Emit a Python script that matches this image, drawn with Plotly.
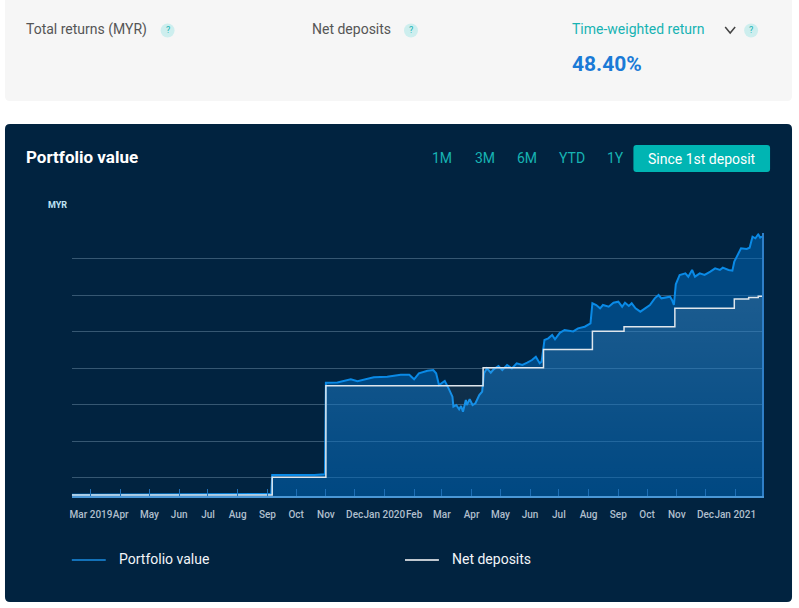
import plotly.graph_objects as go

# Values (MYR, approximate)
portfolio_dates = [
    "2019-02-09", "2019-03-01", "2019-03-20", "2019-04-10", "2019-05-01", "2019-05-20",
    "2019-06-10", "2019-07-01", "2019-07-20", "2019-08-10", "2019-08-25", "2019-09-05",
    "2019-09-06", "2019-09-20", "2019-10-05", "2019-10-20", "2019-10-31",
    "2019-11-01", "2019-11-13", "2019-11-27", "2019-12-04", "2019-12-14", "2019-12-21",
    "2020-01-04", "2020-01-18", "2020-01-27", "2020-02-01", "2020-02-06", "2020-02-15",
    "2020-02-21", "2020-02-24", "2020-02-27", "2020-03-02", "2020-03-04", "2020-03-08",
    "2020-03-12", "2020-03-13", "2020-03-16", "2020-03-19", "2020-03-21", "2020-03-23",
    "2020-03-26", "2020-03-27", "2020-03-30", "2020-04-02", "2020-04-05", "2020-04-09",
    "2020-04-12", "2020-04-14", "2020-04-17", "2020-04-21", "2020-04-24", "2020-04-29",
    "2020-05-03", "2020-05-08", "2020-05-13", "2020-05-18", "2020-05-24", "2020-05-29",
    "2020-06-03", "2020-06-07", "2020-06-11", "2020-06-13", "2020-06-16", "2020-06-20",
    "2020-06-24", "2020-06-27", "2020-07-02", "2020-07-07", "2020-07-13", "2020-07-16",
    "2020-07-21", "2020-07-28", "2020-08-03", "2020-08-05", "2020-08-09", "2020-08-13",
    "2020-08-16", "2020-08-22", "2020-08-27", "2020-09-01", "2020-09-05", "2020-09-08",
    "2020-09-12", "2020-09-15", "2020-09-19", "2020-09-24", "2020-09-29", "2020-10-04",
    "2020-10-09", "2020-10-13", "2020-10-16", "2020-10-21", "2020-10-25", "2020-10-27",
    "2020-10-29", "2020-10-31", "2020-11-04", "2020-11-10", "2020-11-13", "2020-11-17",
    "2020-11-20", "2020-11-25", "2020-11-30", "2020-12-06", "2020-12-11", "2020-12-16",
    "2020-12-19", "2020-12-25", "2020-12-29", "2020-12-31", "2021-01-04", "2021-01-07",
    "2021-01-13", "2021-01-16", "2021-01-19", "2021-01-22", "2021-01-25", "2021-01-27",
    "2021-01-29",
]
portfolio_values = [
    32, 36, 38, 41, 44, 47,
    45, 49, 52, 55, 60, 58,
    575, 580, 565, 578, 595,
    3104, 3110, 3196, 3142, 3196, 3252,
    3269, 3324, 3320, 3196, 3361, 3433,
    3452, 3361, 3041, 3104, 3151, 2950,
    2721, 2447, 2493, 2375, 2466, 2310,
    2630, 2493, 2649, 2493, 2540, 2767,
    2858, 3361, 3498, 3379, 3470, 3562,
    3452, 3589, 3498, 3635, 3589, 3653,
    3726, 3817, 3635, 3680, 4274, 4320,
    4411, 4293, 4470, 4548, 4529, 4510,
    4594, 4638, 4731, 5279, 5233, 5142,
    5233, 5186, 5296, 5324, 5186, 5296,
    5205, 5279, 5142, 5050, 5142, 5233,
    5416, 5507, 5416, 5434, 5461, 5370,
    5233, 5800, 6055, 6101, 6009, 6192,
    6009, 6101, 6055, 6146, 6238, 6192,
    6255, 6192, 6173, 6420, 6649, 6786,
    6767, 6803, 7104, 7060, 7170, 7077,
    7110,
]

deposit_dates = [
    "2019-02-09", "2019-09-06", "2019-11-01", "2020-04-13", "2020-06-15", "2020-08-05",
    "2020-09-07", "2020-10-30", "2020-12-31", "2021-01-15", "2021-01-25", "2021-01-29",
]
deposit_values = [30, 512, 3020, 3515, 4015, 4515, 4638, 5145, 5395, 5440, 5470, 5478]

month_ticks = [
    "2019-03-01", "2019-04-01", "2019-05-01", "2019-06-01", "2019-07-01", "2019-08-01",
    "2019-09-01", "2019-10-01", "2019-11-01", "2019-12-01", "2020-01-01", "2020-02-01",
    "2020-03-01", "2020-04-01", "2020-05-01", "2020-06-01", "2020-07-01", "2020-08-01",
    "2020-09-01", "2020-10-01", "2020-11-01", "2020-12-01", "2021-01-01",
]
month_labels = [
    "Mar 2019", "Apr", "May", "Jun", "Jul", "Aug", "Sep", "Oct", "Nov", "Dec",
    "Jan 2020", "Feb", "Mar", "Apr", "May", "Jun", "Jul", "Aug", "Sep", "Oct",
    "Nov", "Dec", "Jan 2021",
]

range_buttons = ["1M", "3M", "6M", "YTD", "1Y"]

W, H = 799, 608
NAVY = "#012340"
TEAL = "#17b3b3"
FONT = "Roboto"


def px(x):
    return x / W


def py(y):
    return 1 - y / H


def rounded_rect(x0, y0, x1, y1, r):
    pts = [
        ("M", x0 + r, y0), ("L", x1 - r, y0), ("Q", x1, y0, x1, y0 + r),
        ("L", x1, y1 - r), ("Q", x1, y1, x1 - r, y1), ("L", x0 + r, y1),
        ("Q", x0, y1, x0, y1 - r), ("L", x0, y0 + r), ("Q", x0, y0, x0 + r, y0),
    ]
    out = []
    for p in pts:
        cmd, coords = p[0], p[1:]
        xy = []
        for i in range(0, len(coords), 2):
            xy.append(f"{px(coords[i]):.5f},{py(coords[i + 1]):.5f}")
        out.append(cmd + " " + " ".join(xy))
    return " ".join(out) + " Z"


def label(text, x, y, size, color, anchor="center"):
    if anchor == "left":
        x -= 3  # annotation box padding
    return dict(text=text, x=px(x), y=py(y), xref="paper", yref="paper",
                xanchor=anchor, yanchor="middle", showarrow=False,
                font=dict(family=FONT, size=size, color=color))


fig = go.Figure()

# Portfolio value area
fig.add_trace(go.Scatter(
    x=portfolio_dates, y=portfolio_values,
    mode="lines",
    line=dict(color="#0a8ae6", width=2),
    fill="tozeroy",
    fillcolor="rgba(0,110,195,0.5)",
    hoverinfo="skip",
    showlegend=False,
))

# Net deposits area
fig.add_trace(go.Scatter(
    x=deposit_dates, y=deposit_values,
    mode="lines",
    line=dict(color="#dfe6ec", width=1.5, shape="hv"),
    fill="tozeroy",
    fillgradient=dict(
        type="vertical",
        colorscale=[[0, "rgba(255,255,255,0.0)"], [1, "rgba(255,255,255,0.11)"]],
    ),
    hoverinfo="skip",
    showlegend=False,
))

shapes = []
annotations = []

# top summary card
shapes.append(dict(type="path", path=rounded_rect(3, -6, 792, 101, 5),
                   xref="paper", yref="paper", fillcolor="#f6f6f6",
                   line=dict(width=0), layer="below"))
# dark chart panel
shapes.append(dict(type="path", path=rounded_rect(3, 124, 792, 602, 5),
                   xref="paper", yref="paper", fillcolor=NAVY,
                   line=dict(width=0), layer="below"))

# summary labels
for text, x, color, qx in [
    ("Total returns (MYR)", 25, "#555555", 166),
    ("Net deposits", 312, "#555555", 410),
    ("Time-weighted return", 572, TEAL, 751),
]:
    annotations.append(label(text, x, 29, 14, color, "left"))
    shapes.append(dict(type="circle", xref="paper", yref="paper",
                       x0=px(qx - 7), x1=px(qx + 7), y0=py(37.5), y1=py(23.5),
                       fillcolor="#cdeeee", line=dict(width=0)))
    annotations.append(label("?", qx, 30.5, 9, TEAL))

# chevron next to time-weighted return
shapes.append(dict(type="path", xref="paper", yref="paper",
                   path=f"M {px(725)},{py(27)} L {px(730)},{py(33)} L {px(735)},{py(27)}",
                   line=dict(color="#444444", width=1.5)))

annotations.append(label("<b>48.40%</b>", 572, 64, 21, "#1a7ad6", "left"))

# panel title
annotations.append(label("<b>Portfolio value</b>", 25, 157, 17, "white", "left"))

# range selector
for text, x in zip(range_buttons, [441, 484, 526, 571, 615]):
    annotations.append(label(text, x, 158, 14, TEAL))
shapes.append(dict(type="path", path=rounded_rect(633, 145, 770, 172, 3),
                   xref="paper", yref="paper", fillcolor="#00b5b3", line=dict(width=0)))
annotations.append(label("Since 1st deposit", 701.5, 158.5, 14, "white"))

# unit label
annotations.append(label("<b>MYR</b>", 56, 205, 9, "#bfe3f5"))

# legend
for text, x0, color in [("Portfolio value", 70, "#1a8ce0"), ("Net deposits", 404, "#ffffff")]:
    shapes.append(dict(type="line", xref="paper", yref="paper",
                       x0=px(x0), x1=px(x0 + 34), y0=py(560), y1=py(560),
                       line=dict(color=color, width=1.5)))
    annotations.append(label(text, x0 + 48, 559, 14, "#f2f5f8", "left"))

fig.update_layout(
    width=W, height=H,
    margin=dict(l=0, r=0, t=0, b=0),
    paper_bgcolor="white",
    plot_bgcolor="rgba(0,0,0,0)",
    showlegend=False,
    shapes=shapes,
    annotations=annotations,
    xaxis=dict(
        domain=[px(70), px(762)],
        type="date",
        range=["2019-02-09", "2021-01-29"],
        tickmode="array",
        tickvals=month_ticks,
        ticktext=month_labels,
        tickangle=0,
        ticks="inside",
        ticklen=7,
        tickcolor="#1f6fb5",
        tickwidth=1,
        ticklabelstandoff=8,
        showgrid=False,
        showline=True,
        linecolor="#4a97d6",
        linewidth=2,
        zeroline=False,
        tickfont=dict(family=FONT, size=10, color="#b0bfcd", weight=500),
        fixedrange=True,
    ),
    yaxis=dict(
        domain=[py(496), py(233.2)],
        range=[0, 7200],
        tick0=500,
        dtick=1000,
        showticklabels=False,
        showgrid=True,
        gridcolor="rgba(120,150,175,0.45)",
        gridwidth=1,
        zeroline=False,
        side="right",
        showline=True,
        linecolor="#2f7fc8",
        linewidth=1.5,
        ticks="",
        fixedrange=True,
    ),
)

fig.write_html("out.html", config={"displayModeBar": False},
               post_script="document.body.style.margin='0';")
